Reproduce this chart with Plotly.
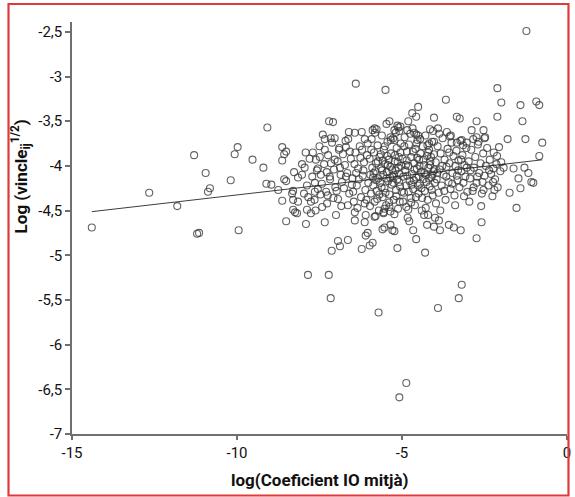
import plotly.graph_objects as go

# ---- data: (log mean IO coefficient, log link^1/2) ----
pts_left = [(-14.40,-4.69),(-12.66,-4.30),(-11.81,-4.45),(-11.30,-3.88),(-10.95,-4.08),(-10.82,-4.25),
    (-10.88,-4.29),(-10.19,-4.16),(-10.07,-3.87),(-9.98,-3.79),(-11.21,-4.76),(-11.15,-4.75),(-9.95,-4.72),
    (-9.53,-3.93),(-9.20,-4.02),(-9.08,-3.57),(-9.11,-4.20),(-8.96,-4.21),(-8.75,-4.27)]

pts_mid_left = [(-8.63,-3.79),(-8.51,-3.84),(-8.57,-3.87),(-8.63,-3.94),(-8.03,-3.98),(-8.27,-4.07),(-8.15,-4.13),
    (-8.03,-4.10),(-8.57,-4.15),(-8.51,-4.17),(-8.30,-4.28),(-8.33,-4.31),(-7.97,-4.31),(-7.64,-4.19),(-7.64,-4.29),
    (-8.63,-4.39),(-8.51,-4.62),(-8.30,-4.38),(-8.15,-4.40),(-8.30,-4.49),(-8.24,-4.52),(-8.18,-4.53),(-7.76,-4.40),
    (-7.88,-4.49),(-7.76,-4.53),(-7.91,-4.65),(-7.34,-4.63),(-7.00,-4.55),(-7.42,-4.46),(-7.55,-4.03),(-7.46,-4.10),
    (-7.61,-3.93),(-7.49,-3.90),(-7.34,-3.82),(-7.28,-4.07),(-7.19,-4.12),(-7.04,-3.93),(-6.91,-3.82),(-6.79,-3.87),
    (-6.70,-3.79)]

pts_upper = [(-6.40,-3.08),(-7.21,-3.50),(-7.09,-3.51),(-6.61,-3.62),(-6.43,-3.63),(-6.22,-3.62),(-5.89,-3.60),
    (-7.34,-3.70),(-7.16,-3.69),(-7.04,-3.69),(-6.13,-3.70),(-5.50,-3.15),(-5.83,-3.58),(-5.38,-3.50),(-5.05,-3.56),
    (-5.08,-3.61)]

pts_right = [(-1.23,-2.49),(-2.11,-3.13),(-3.67,-3.26),(-1.99,-3.29),(-1.41,-3.32),(-0.93,-3.28),(-0.84,-3.32),
    (-2.11,-3.45),(-1.35,-3.50),(-4.51,-3.34),(-4.69,-3.41),(-4.57,-3.45),(-4.81,-3.50),(-4.03,-3.46),(-3.34,-3.45),
    (-3.25,-3.47),(-2.74,-3.50),(-5.47,-3.53),(-5.77,-3.59),(-5.14,-3.55),(-5.11,-3.57),(-5.23,-3.60),(-4.84,-3.60),
    (-4.63,-3.63),(-4.57,-3.65),(-4.51,-3.66),(-4.15,-3.59),(-3.91,-3.58),(-3.64,-3.62),(-3.55,-3.67),(-2.89,-3.60),
    (-2.53,-3.60),(-2.74,-3.68),(-2.50,-3.69),(-2.68,-3.73),(-1.80,-3.70),(-1.26,-3.70),(-0.75,-3.74),(-5.35,-3.68),
    (-5.23,-3.71),(-3.19,-3.71),(-3.04,-3.74),(-3.34,-3.74),(-4.03,-3.73),(-4.18,-3.75)]

pts_right_spread = [(-0.84,-3.89),(-1.99,-3.96),(-1.62,-4.03),(-1.29,-4.02),(-1.92,-4.02),(-2.23,-4.03),(-1.47,-4.14),
    (-1.17,-4.08),(-1.08,-4.18),(-1.02,-4.19),(-1.41,-4.25),(-1.74,-4.30),(-1.53,-4.47),(-2.20,-4.27),(-2.53,-4.27),
    (-2.83,-4.24),(-2.59,-4.63),(-2.74,-4.81),(-3.22,-4.72),(-3.43,-4.69),(-3.58,-4.66),(-3.85,-4.72),(-4.03,-4.68),
    (-4.24,-4.66),(-4.00,-4.58),(-3.88,-4.61),(-4.21,-4.55),(-4.33,-4.55),(-4.66,-4.72),(-4.57,-4.82),(-5.14,-4.92),
    (-5.29,-4.72),(-5.53,-4.69),(-4.72,-4.41),(-4.87,-4.46),(-4.81,-4.49),(-5.35,-4.51),(-5.56,-4.53),(-5.80,-4.56),
    (-6.04,-4.75),(-5.89,-4.86),(-4.30,-4.97)]

pts_lower = [(-7.13,-4.95),(-6.94,-4.84),(-6.88,-4.90),(-6.64,-4.83),(-6.43,-4.61),(-6.13,-4.63),(-6.22,-4.93),
    (-5.98,-4.89),(-6.10,-4.78),(-5.59,-4.71),(-5.23,-4.73),(-5.35,-4.66),(-7.85,-5.22),(-7.22,-5.22),(-7.16,-5.48),
    (-5.71,-5.64),(-3.91,-5.59),(-3.28,-5.48),(-3.19,-5.33),(-4.87,-6.43),(-5.08,-6.59),
    (-7.25,-4.33),(-6.94,-4.37),(-6.64,-4.44),(-6.43,-4.52),(-6.10,-4.55),(-5.83,-4.57),(-5.53,-4.48),(-5.23,-4.54),
    (-5.38,-4.46)]

pts_core_8_7 = [(-7.95,-4.02),(-7.88,-4.22),(-7.80,-3.92),(-7.72,-4.12),(-7.65,-4.38),(-7.58,-4.05),(-7.50,-3.78),
    (-7.43,-4.20),(-7.36,-3.98),(-7.30,-4.29),(-7.24,-3.88),(-7.18,-4.15),(-7.12,-3.74),(-7.06,-4.04),(-7.02,-4.24),
    (-7.92,-3.85),(-7.70,-3.85),(-7.47,-4.32),(-7.27,-4.42),(-7.08,-4.36),(-7.40,-3.65),(-7.15,-3.97),(-7.62,-4.50),
    (-7.84,-4.35),(-7.55,-4.26)]

pts_core_7_6 = [(-6.95,-3.95),(-6.88,-4.02),(-6.82,-4.18),(-6.76,-4.25),(-6.71,-3.72),(-6.66,-4.08),(-6.60,-4.31),
    (-6.55,-3.92),(-6.50,-4.14),(-6.46,-4.40),(-6.41,-3.85),(-6.37,-4.22),(-6.33,-4.03),(-6.28,-3.78),(-6.24,-4.35),
    (-6.19,-4.11),(-6.15,-3.96),(-6.11,-4.27),(-6.06,-3.88),(-6.02,-4.19),(-6.98,-4.28),(-6.90,-3.80),(-6.84,-4.45),
    (-6.73,-3.99),(-6.63,-3.70),(-6.52,-4.21),(-6.44,-3.98),(-6.35,-4.47),(-6.26,-3.91),(-6.17,-4.05),(-6.08,-4.38),
    (-6.04,-3.75),(-6.70,-4.12),(-6.58,-3.84),(-6.31,-4.15),(-6.21,-3.82),(-6.13,-4.42),(-6.86,-4.10),(-6.48,-4.29),
    (-6.39,-4.08)]

pts_core_6_5 = [(-5.98,-3.92),(-5.96,-4.10),(-5.94,-4.31),(-5.92,-3.70),(-5.90,-4.02),(-5.87,-4.22),(-5.85,-3.85),
    (-5.83,-4.40),(-5.81,-4.06),(-5.79,-3.97),(-5.77,-4.28),(-5.74,-3.77),(-5.72,-4.14),(-5.70,-4.50),(-5.68,-3.90),
    (-5.66,-4.19),(-5.63,-4.03),(-5.61,-3.66),(-5.59,-4.35),(-5.57,-4.10),(-5.55,-3.82),(-5.53,-4.25),(-5.51,-3.98),
    (-5.48,-4.44),(-5.46,-4.07),(-5.44,-3.73),(-5.42,-4.17),(-5.40,-3.93),(-5.38,-4.32),(-5.35,-4.01),(-5.33,-3.86),
    (-5.31,-4.21),(-5.29,-4.12),(-5.27,-3.69),(-5.25,-4.38),(-5.22,-3.95),(-5.20,-4.05),(-5.18,-4.27),(-5.16,-3.80),
    (-5.14,-4.15),(-5.12,-4.48),(-5.10,-3.90),(-5.08,-4.09),(-5.06,-4.23),(-5.04,-3.75),(-5.02,-4.00),(-5.97,-4.45),
    (-5.93,-3.82),(-5.88,-4.13),(-5.82,-3.63),(-5.78,-4.16),(-5.73,-3.95),(-5.69,-4.32),(-5.64,-3.87),(-5.60,-4.05),
    (-5.56,-4.52),(-5.52,-3.78),(-5.47,-4.14),(-5.43,-3.99),(-5.39,-4.41),(-5.34,-3.71),(-5.30,-4.04),(-5.26,-4.19),
    (-5.21,-3.88),(-5.17,-4.34),(-5.13,-3.96),(-5.09,-4.18),(-5.05,-3.85),(-5.01,-4.29),(-5.86,-4.08),(-5.62,-4.24),
    (-5.45,-3.89),(-5.24,-4.10),(-5.11,-4.02),(-5.75,-4.37),(-5.58,-3.94),(-5.36,-4.13),(-5.19,-3.63),(-5.07,-4.40),
    (-5.50,-4.30)]

pts_core_5_4 = [(-4.98,-3.92),(-4.96,-4.12),(-4.94,-4.30),(-4.92,-3.68),(-4.90,-4.05),(-4.87,-4.22),(-4.85,-3.84),
    (-4.83,-4.58),(-4.81,-4.00),(-4.79,-3.76),(-4.77,-4.17),(-4.74,-4.36),(-4.72,-3.90),(-4.70,-4.09),(-4.68,-3.58),
    (-4.66,-4.26),(-4.63,-3.97),(-4.61,-4.44),(-4.59,-3.81),(-4.57,-4.13),(-4.55,-4.03),(-4.53,-3.71),(-4.50,-4.31),
    (-4.48,-3.93),(-4.46,-4.20),(-4.44,-3.86),(-4.42,-4.07),(-4.40,-4.50),(-4.37,-3.78),(-4.35,-4.15),(-4.33,-3.99),
    (-4.31,-4.28),(-4.29,-3.66),(-4.27,-4.10),(-4.24,-3.89),(-4.22,-4.38),(-4.20,-4.02),(-4.18,-3.82),(-4.16,-4.23),
    (-4.14,-3.95),(-4.11,-4.13),(-4.09,-3.73),(-4.07,-4.33),(-4.05,-4.06),(-4.03,-3.87),(-4.01,-4.19),(-4.97,-4.40),
    (-4.93,-3.78),(-4.88,-3.99),(-4.84,-4.11),(-4.80,-4.29),(-4.75,-3.64),(-4.71,-4.21),(-4.67,-3.84),(-4.62,-4.04),
    (-4.58,-4.35),(-4.54,-3.91),(-4.49,-4.12),(-4.45,-3.70),(-4.41,-4.25),(-4.36,-3.93),(-4.32,-4.08),(-4.28,-4.47),
    (-4.23,-3.77),(-4.19,-4.14),(-4.15,-3.99),(-4.10,-4.27),(-4.06,-3.61),(-4.02,-4.04),(-4.86,-3.94),(-4.64,-4.16),
    (-4.47,-4.00),(-4.26,-4.18),(-4.12,-3.90),(-4.78,-4.62),(-4.56,-3.75),(-4.39,-4.36),(-4.21,-3.85),(-4.08,-4.10),
    (-4.52,-4.22)]

pts_core_4_3 = [(-3.98,-3.96),(-3.95,-4.15),(-3.92,-3.78),(-3.89,-4.30),(-3.86,-4.04),(-3.83,-3.86),(-3.80,-4.22),
    (-3.77,-3.69),(-3.74,-4.10),(-3.71,-3.93),(-3.68,-4.38),(-3.65,-4.01),(-3.62,-3.81),(-3.59,-4.18),(-3.56,-3.97),
    (-3.53,-4.26),(-3.50,-3.74),(-3.47,-4.08),(-3.44,-3.89),(-3.41,-4.33),(-3.38,-4.00),(-3.35,-3.83),(-3.32,-4.16),
    (-3.29,-3.94),(-3.26,-4.24),(-3.23,-3.72),(-3.20,-4.06),(-3.17,-3.88),(-3.14,-4.19),(-3.11,-3.99),(-3.08,-4.12),
    (-3.05,-3.80),(-3.02,-4.29),(-3.97,-4.42),(-3.87,-3.64),(-3.78,-4.00),(-3.66,-4.12),(-3.57,-3.85),(-3.48,-4.20),
    (-3.39,-4.44),(-3.30,-4.05),(-3.21,-3.93),(-3.12,-4.34),(-3.04,-4.02),(-3.93,-4.08),(-3.72,-4.28),(-3.52,-3.66),
    (-3.34,-4.11),(-3.15,-3.77),(-3.84,-4.50)]

pts_core_3_2 = [(-2.98,-3.95),(-2.94,-4.14),(-2.90,-3.82),(-2.86,-4.28),(-2.82,-4.02),(-2.78,-3.90),(-2.74,-4.19),
    (-2.70,-3.76),(-2.66,-4.08),(-2.62,-3.97),(-2.58,-4.31),(-2.54,-3.86),(-2.50,-4.11),(-2.46,-4.00),(-2.42,-3.80),
    (-2.38,-4.22),(-2.34,-3.93),(-2.30,-4.09),(-2.26,-4.34),(-2.22,-3.85),(-2.18,-4.15),(-2.14,-3.98),(-2.10,-4.24),
    (-2.06,-3.79),(-2.02,-4.06),(-2.96,-4.40),(-2.84,-3.70),(-2.72,-4.12),(-2.60,-4.45),(-2.48,-3.68),(-2.36,-4.05),
    (-2.24,-4.18),(-2.12,-3.89),(-2.92,-4.05),(-2.56,-4.18)]

# fitted line: y = intercept + slope * x
fit_intercept = -3.90
fit_slope = 0.0425

x_ticks = [-15, -10, -5, 0]
x_tick_labels = ["-15", "-10", "-5", "0"]
y_ticks = [-2.5, -3, -3.5, -4, -4.5, -5, -5.5, -6, -6.5, -7]
y_tick_labels = ["-2,5", "-3", "-3,5", "-4", "-4,5", "-5", "-5,5", "-6", "-6,5", "-7"]

# ---------------------------------------------------------------------------
all_pts = (pts_left + pts_mid_left + pts_upper + pts_right + pts_right_spread + pts_lower +
           pts_core_8_7 + pts_core_7_6 + pts_core_6_5 + pts_core_5_4 + pts_core_4_3 + pts_core_3_2)
xs = [p[0] for p in all_pts]
ys = [p[1] for p in all_pts]

x0, x1 = min(xs), max(xs)
line_x = [x0, x1]
line_y = [fit_intercept + fit_slope * v for v in line_x]

FONT = "Roboto"
AXC = "#707070"

fig = go.Figure()
fig.add_trace(go.Scatter(
    x=xs, y=ys, mode="markers",
    marker=dict(symbol="circle-open", size=7, color="rgba(55,55,55,0.78)", line=dict(width=1.1)),
    hoverinfo="skip", showlegend=False))
fig.add_trace(go.Scatter(
    x=line_x, y=line_y, mode="lines",
    line=dict(color="rgba(40,40,40,0.9)", width=1),
    hoverinfo="skip", showlegend=False))

fig.update_layout(
    width=575, height=497,
    margin=dict(l=72, r=4, t=22, b=63),
    paper_bgcolor="white", plot_bgcolor="white",
    font=dict(family=FONT, size=15, color="#111"),
    xaxis=dict(range=[-15, 0], tickvals=x_ticks, ticktext=x_tick_labels,
               showgrid=False, zeroline=False, showline=True, linecolor=AXC, linewidth=1.5,
               ticks="outside", ticklen=4, tickwidth=1.5, tickcolor=AXC,
               ticklabeloverflow="allow",
               tickfont=dict(family=FONT, size=15, color="#111")),
    yaxis=dict(range=[-7, -2.39], tickvals=y_ticks, ticktext=y_tick_labels,
               showgrid=False, zeroline=False, showline=True, linecolor=AXC, linewidth=1.5,
               ticks="outside", ticklen=5, tickwidth=1.5, tickcolor=AXC,
               tickfont=dict(family=FONT, size=15, color="#111")),
    annotations=[
        dict(text="<b>log(Coeficient IO mitjà)</b>", xref="paper", yref="paper",
             x=0.5, y=-0.112, xanchor="center", yanchor="middle", showarrow=False,
             font=dict(family=FONT, size=17, color="#111")),
        dict(text="<b>Log (vincle<sub>ij</sub><sup>1/2</sup>)</b>", xref="paper", yref="paper",
             x=(21 - 72) / 499, y=(434 - 176) / 412, xanchor="center", yanchor="middle",
             textangle=-90, showarrow=False,
             font=dict(family=FONT, size=17, color="#111")),
    ],
    shapes=[dict(type="rect", xref="paper", yref="paper",
                 x0=(8 - 72) / 499, x1=(572.5 - 72) / 499,
                 y0=(434 - 495.5) / 412, y1=(434 - 4) / 412,
                 line=dict(color="#dd3b3b", width=2.2), fillcolor="rgba(0,0,0,0)", layer="above")],
)

fig.write_html("out.html", config={"displayModeBar": False},
               post_script="document.body.style.margin='0px';document.body.style.overflow='hidden';")
